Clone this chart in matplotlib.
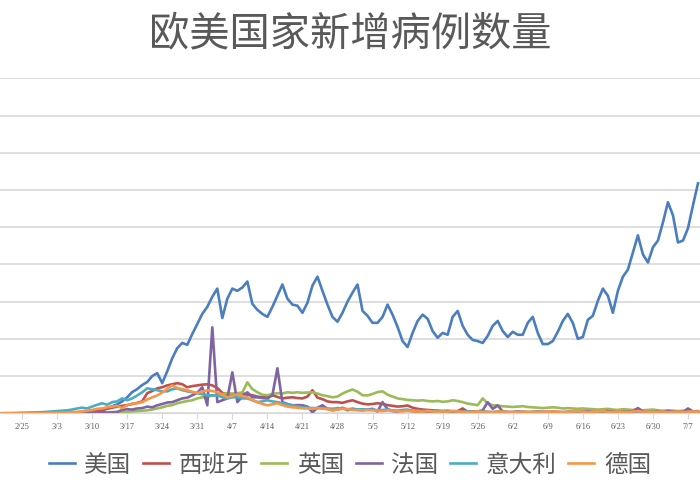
import numpy as np
import pandas as pd
import matplotlib
matplotlib.use('Agg')
import matplotlib.pyplot as plt

plt.rcParams['font.family'] = ['Noto Sans CJK SC', 'DejaVu Sans']

# datas diarias (2/21 ate 7/9)
datas = pd.date_range('2020-02-21', periods=140)
rotulos = [f'{d.month}/{d.day}' for d in datas]

eua = [0, 0, 0, 10, 20, 10, 30, 40, 60, 80, 50, 100, 120, 150, 180, 250, 300, 350,
       300, 500, 800, 1300, 1900, 2400, 3200, 4300, 5700, 6500,
       7600, 8400, 10000, 10800, 8100, 11300, 14800, 17500, 18900, 18400,
       21300, 24000, 26700, 28600, 31300, 33500, 25600, 30800, 33500, 32900,
       33800, 35400, 29400, 27800, 26700, 25900, 28600, 31600, 34600, 30800,
       29200, 28900, 27000, 29700, 34300, 36700, 32900, 29200, 25900, 24600,
       27000, 30000, 32400, 34600, 27500, 26200, 24300, 24300, 25900, 29200,
       26500, 23200, 19400, 17800, 21600, 24800, 26500, 25400, 22100, 20300,
       21600, 21100, 25900, 27500, 23500, 21100, 19700, 19400, 18900, 20800,
       23500, 24800, 22100, 20500, 21900, 21100, 21100, 24300, 25900, 21600,
       18600, 18600, 19400, 21900, 24800, 26700, 24300, 20000, 20500, 25100,
       26200, 30200, 33500, 31600, 27000, 32900, 36700, 38600, 43200, 47800,
       42700, 40500, 44600, 46400, 51300, 56700, 53200, 45900, 46400, 49700,
       55900, 61800]

espanha = [0, 0, 0, 0, 0, 0, 0, 0,
           0, 10, 20, 30, 40, 50, 100, 150, 200, 400,
           600, 800, 1000, 1200, 1500, 1800, 2000, 2200, 2500, 2800,
           3200, 5400, 6000, 6700, 7000, 7500, 7800, 8100, 7800, 7000,
           7300, 7500, 7700, 7800, 7500, 6800, 5500, 5000, 4850, 5200,
           5400, 5000, 4850, 4500, 4300, 4600, 4850, 4400, 4000, 4200,
           4300, 4100, 4000, 4500, 6200, 4200, 3800, 3200, 3000, 3000,
           2800, 3200, 3500, 3000, 2600, 2400, 2500, 2700, 2500, 2200,
           2000, 1800, 1900, 2100, 1500, 1200, 1000, 900, 800, 700,
           600, 700, 500, 600, 1300, 400, 500, 300, 400, 300,
           300, 400, 300, 200, 300, 400, 300, 200, 300, 200,
           300, 400, 300, 200, 300, 300, 200, 300, 400, 300,
           300, 400, 300, 200, 300, 400, 300, 300, 400, 300,
           300, 400, 500, 300, 200, 300, 400, 300, 400, 300,
           400, 300]

reino_unido = [0, 0, 0, 0, 0, 0, 0, 0,
               0, 0, 10, 10, 20, 30, 40, 50, 50, 60,
               70, 80, 100, 150, 200, 250, 270, 400, 500, 600,
               700, 800, 1000, 1300, 1600, 2000, 2200, 2700, 3000, 3300,
               3500, 4000, 4300, 4500, 4700, 4850, 5200, 5400, 5300, 5400,
               5600, 8300, 6500, 5650, 5000, 4850, 5200, 5400, 5300, 5650,
               5500, 5650, 5500, 5600, 5650, 5300, 4850, 4600, 4300, 4500,
               5300, 5900, 6400, 5800, 4850, 4800, 5200, 5700, 5900, 5000,
               4500, 4000, 3800, 3600, 3500, 3400, 3500, 3300, 3200, 3300,
               3100, 3200, 3500, 3300, 3000, 2600, 2400, 2200, 4000, 2600,
               2200, 2100, 1900, 1800, 1700, 1800, 1900, 1700, 1600, 1500,
               1400, 1500, 1600, 1500, 1300, 1400, 1300, 1200, 1300, 1200,
               1100, 1000, 1100, 1200, 1000, 900, 1100, 1000, 900, 900,
               800, 900, 1000, 800, 700, 800, 700, 600, 700, 600,
               500, 600]

franca = [0, 0, 0, 0, 0, 0, 0, 0,
          0, 0, 10, 20, 20, 40, 30, 60, 20, 70,
          140, 190, 340, 180, 290, 370, 900, 1100, 1000, 1300,
          1400, 1800, 1600, 2150, 2500, 2900, 3000, 3500, 4000, 4200,
          4850, 5500, 7000, 2150, 23100, 3000, 3500, 4000, 11000, 3000,
          4500, 5650, 4300, 4300, 4100, 4000, 4850, 12100, 3000, 2500,
          2150, 2200, 2150, 1800, 270, 1500, 2150, 1200, 800, 1000,
          1500, 800, 1200, 1000, 900, 1000, 1200, 500, 3000, 1100,
          600, 500, 800, 700, 600, 400, 300, 500, 400, 600,
          500, 400, 300, 500, 600, 400, 300, 500, 800, 3000,
          1200, 2100, 500, 400, 300, 500, 400, 300, 400, 500,
          400, 300, 500, 400, 300, 400, 500, 300, 400, 500,
          400, 300, 500, 600, 400, 300, 500, 400, 600, 1400,
          500, 400, 300, 500, 400, 600, 500, 400, 300, 1300,
          500, 400]

italia = [0, 0, 20, 60, 100, 150, 200, 250,
          300, 400, 500, 600, 700, 800, 1000, 1300, 1500, 1300,
          1800, 2300, 2700, 2300, 3000, 3200, 4000, 3500, 4000, 4800,
          5650, 6700, 6450, 6200, 5900, 5900, 6450, 6700, 6200, 5900,
          5650, 5400, 5100, 4850, 4850, 4850, 4300, 4000, 4300, 4300,
          4000, 4000, 3500, 3000, 3200, 3500, 3200, 3000, 2700, 2400,
          2150, 1900, 1600, 1500, 1400, 1400, 1350, 1300, 1200, 1400,
          1300, 1100, 1200, 1000, 1100, 900, 1000, 800, 900, 1000,
          800, 700, 900, 1000, 700, 800, 600, 700, 600, 500,
          600, 500, 600, 500, 400, 500, 400, 300, 500, 400,
          300, 400, 300, 200, 300, 400, 300, 200, 300, 200,
          300, 200, 300, 300, 200, 200, 300, 200, 300, 200,
          300, 200, 200, 300, 200, 200, 300, 200, 100, 200,
          200, 200, 100, 200, 200, 200, 300, 200, 100, 200,
          200, 300]

alemanha = [0, 0, 0, 0, 0, 0, 20, 30,
            50, 60, 100, 100, 150, 200, 300, 400, 500, 700,
            900, 1200, 1300, 1600, 1800, 2000, 1400, 2200, 2600, 2700,
            3000, 3700, 4300, 4800, 5600, 6600, 7500, 6800, 6500, 6200,
            5800, 5400, 5800, 6200, 6000, 5650, 5000, 4300, 4700, 5100,
            4600, 4300, 3600, 3000, 2500, 2150, 2400, 2700, 2200, 1800,
            1600, 1500, 1350, 1300, 1200, 1400, 1300, 1100, 900, 1000,
            1200, 1100, 900, 800, 700, 900, 800, 700, 600, 800,
            700, 600, 500, 700, 600, 500, 400, 600, 500, 400,
            500, 400, 600, 500, 400, 300, 400, 500, 300, 400,
            300, 400, 500, 300, 400, 300, 500, 400, 300, 400,
            300, 400, 500, 400, 300, 400, 500, 600, 400, 300,
            400, 500, 600, 400, 300, 500, 400, 300, 500, 600,
            400, 500, 300, 400, 500, 300, 400, 500, 300, 400,
            500, 400]

series = [
    ('美国', eua, '#4A7EBF'),
    ('西班牙', espanha, '#C0504D'),
    ('英国', reino_unido, '#9BBB59'),
    ('法国', franca, '#8064A2'),
    ('意大利', italia, '#4BACC6'),
    ('德国', alemanha, '#F79646'),
]

fig = plt.figure(figsize=(7, 5), dpi=100)
ax = fig.add_axes([0, 0.1734, 1, 0.67])

x = np.arange(len(datas))
for nome, valores, cor in series:
    ax.plot(x, valores, color=cor, linewidth=1.9, label=nome)

ax.set_xlim(-0.4, 139.4)
ax.set_ylim(0, 90000)
ax.set_yticks(range(0, 90001, 10000))
ax.tick_params(axis='y', length=0, labelleft=False)
ax.grid(axis='y', color='#d9d9d9', linewidth=1.2)
ax.set_axisbelow(True)
for lado in ['top', 'left', 'right']:
    ax.spines[lado].set_visible(False)
ax.spines['bottom'].set_color('#d9d9d9')

marcas = list(range(4, 140, 7))
ax.set_xticks(marcas)
ax.set_xticklabels([rotulos[i] for i in marcas], fontsize=6, color='#595959',
                   family='Liberation Serif')
ax.tick_params(axis='x', length=4, color='#d9d9d9', pad=3)

fig.text(0.5, 1 - 35 / 500, '欧美国家新增病例数量', ha='center', va='center',
         fontsize=29, color='#595959')
fig.legend(loc='center', bbox_to_anchor=(0.5, 1 - 465 / 500), ncol=6, frameon=False,
           fontsize=17, labelcolor='#595959', handlelength=1.1, handletextpad=0.4,
           columnspacing=0.5)

fig.savefig('out.png', dpi=100)
